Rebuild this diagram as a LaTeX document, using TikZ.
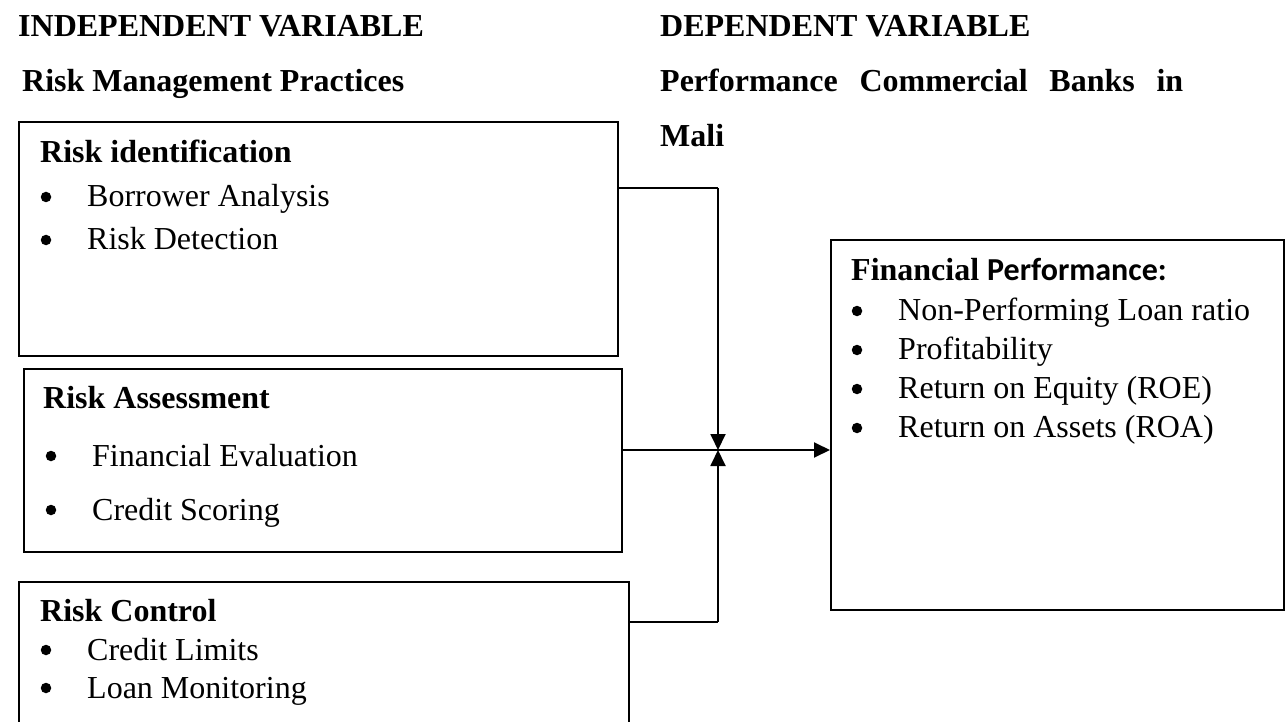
\documentclass[tikz,border=0pt]{standalone}
\usepackage{fontspec}
\setmainfont{Liberation Serif}
\newfontfamily\calibri{Carlito}
\usetikzlibrary{arrows.meta}
\begin{document}
\begin{tikzpicture}[x=1pt,y=-1pt,
  box/.style={draw, line width=1.6pt, inner sep=0pt, anchor=north west},
  txt/.style={inner sep=0pt, anchor=base west, font=\fontsize{32}{38}\selectfont},
  dot/.style={circle, fill=black, inner sep=0pt, minimum size=10.5pt},
  hd/.style={inner sep=0pt, anchor=base west, font=\fontsize{32}{38}\selectfont\bfseries},
  conn/.style={line width=1.9pt},
  arr/.style={conn, -{Triangle[length=16pt,width=15pt]}}]
\useasboundingbox (0,0) rectangle (1285,722);
\clip (0,0) rectangle (1285,722);
% headings
\node[hd] (indep) at (18,37) {INDEPENDENT VARIABLE};
\node[hd] (rmp) at (22,92) {Risk Management Practices};
\node[hd] (dep) at (660,37) {DEPENDENT VARIABLE};
\node[hd] (pcb) at (660,92) {\makebox[523pt][s]{Performance Commercial Banks in}};
\node[hd] (mali) at (660,147) {Mali};
% boxes
\node[box, minimum width=599pt, minimum height=234pt] (ident) at (18,121) {};
\node[box, minimum width=598pt, minimum height=183pt] (assess) at (23,368) {};
\node[box, minimum width=610pt, minimum height=170pt] (control) at (18,581) {};
\node[box, minimum width=453pt, minimum height=370pt] (perf) at (830,239) {};
% box 1 text
\node[hd] (t1) at (40,163) {Risk identification};
\node[dot] (b11) at (46,197) {};
\node[txt] (i11) at (87,207) {Borrower Analysis};
\node[dot] (b12) at (46,240) {};
\node[txt] (i12) at (87,250) {Risk Detection};
% box 2 text
\node[hd] (t2) at (43,408) {Risk Assessment};
\node[dot] (b21) at (51,456) {};
\node[txt] (i21) at (92,466) {Financial Evaluation};
\node[dot] (b22) at (51,510) {};
\node[txt] (i22) at (92,520) {Credit Scoring};
% box 3 text
\node[hd] (t3) at (40,621) {Risk Control};
\node[dot] (b31) at (46,650) {};
\node[txt] (i31) at (87,660) {Credit Limits};
\node[dot] (b32) at (46,688) {};
\node[txt] (i32) at (87,698) {Loan Monitoring};
% box 4 text
\node[hd] (t4) at (851,280) {Financial {\calibri Performance:}};
\node[dot] (b41) at (857,311) {};
\node[txt] (i41) at (898,320) {Non-Performing Loan ratio};
\node[dot] (b42) at (857,350) {};
\node[txt] (i42) at (898,359) {Profitability};
\node[dot] (b43) at (857,389) {};
\node[txt] (i43) at (898,398) {Return on Equity (ROE)};
\node[dot] (b44) at (857,428) {};
\node[txt] (i44) at (898,437) {Return on Assets (ROA)};
% connectors
\coordinate (j) at (718,450);
\coordinate (k1) at (718,188);
\coordinate (k3) at (718,622);
\draw[conn] (k1 -| ident.east) -- (k1);
\draw[arr] (k1) -- (j);
\draw[conn] (k3 -| control.east) -- (k3);
\draw[arr] (k3) -- (j);
\draw[arr] (j -| assess.east) -- (j -| perf.west);
\end{tikzpicture}
\end{document}
